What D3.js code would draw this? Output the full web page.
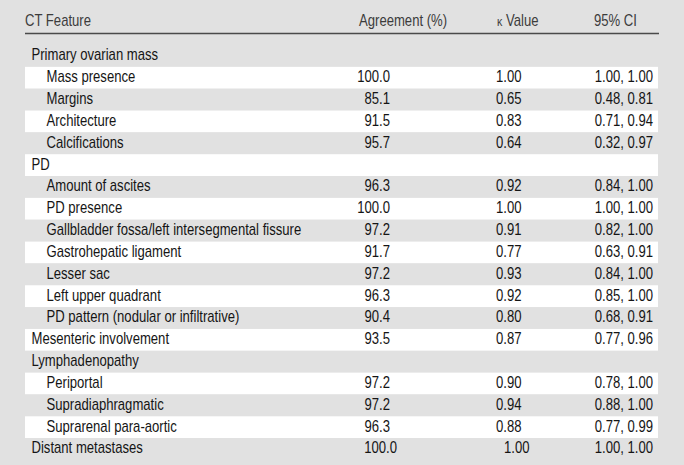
<!DOCTYPE html>
<html>
<head>
<meta charset="utf-8">
<script src="https://cdn.jsdelivr.net/npm/d3@7"></script>
<style>
  html, body { margin: 0; padding: 0; background: #e1e1e1; }
  svg { display: block; }
  text { font-family: "Liberation Sans", Arial, "Roboto", sans-serif; }
</style>
</head>
<body>
<svg id="chart" width="684" height="465"></svg>
<script>
// ---- data ----
const headers = ["CT Feature", "Agreement (%)", "\u03BA Value", "95% CI"];
const features = [
  "Primary ovarian mass", "Mass presence", "Margins", "Architecture", "Calcifications",
  "PD", "Amount of ascites", "PD presence", "Gallbladder fossa/left intersegmental fissure",
  "Gastrohepatic ligament", "Lesser sac", "Left upper quadrant", "PD pattern (nodular or infiltrative)",
  "Mesenteric involvement", "Lymphadenopathy", "Periportal", "Supradiaphragmatic",
  "Suprarenal para-aortic", "Distant metastases"
];
const levels = [0,1,1,1,1, 0,1,1,1,1,1,1,1, 0, 0,1,1,1, 0];
const agreement = [null,100.0,85.1,91.5,95.7, null,96.3,100.0,97.2,91.7,97.2,96.3,90.4, 93.5, null,97.2,97.2,96.3, 100.0];
const kappa = [null,1.00,0.65,0.83,0.64, null,0.92,1.00,0.91,0.77,0.93,0.92,0.80, 0.87, null,0.90,0.94,0.88, 1.00];
const ciLow = [null,1.00,0.48,0.71,0.32, null,0.84,1.00,0.82,0.63,0.84,0.85,0.68, 0.77, null,0.78,0.88,0.77, 1.00];
const ciHigh = [null,1.00,0.81,0.94,0.97, null,1.00,1.00,1.00,0.91,1.00,1.00,0.91, 0.96, null,1.00,1.00,0.99, 1.00];

// ---- layout ----
const svg = d3.select("#chart");
const left = 25, right = 658;
const y = d3.scaleBand().domain(d3.range(features.length)).range([45, 460]);
const f1 = d3.format(".1f"), f2 = d3.format(".2f");
const fs = 16;

// condensed horizontal scale so the longest label spans the same width as the reference
const probe = svg.append("text").style("font-size", fs + "px").text(features[8]);
const sx = 255 / probe.node().getComputedTextLength();
probe.remove();

function put(g, x, yy, txt, anchor) {
  return g.append("text")
    .attr("transform", `translate(${x},${yy}) scale(${sx},1)`)
    .attr("text-anchor", anchor || "start")
    .text(txt);
}

// header
const hdr = svg.append("g").attr("fill", "#3c3c3c").style("font-size", fs + "px");
put(hdr, 25, 26, headers[0]);
put(hdr, 359, 26, headers[1]);
const kh = hdr.append("text").attr("transform", `translate(497,26) scale(${sx},1)`);
kh.append("tspan").style("font-size", "13px").text("\u03BA");
kh.append("tspan").text(" Value");
put(hdr, 594, 26, headers[3]);
svg.append("line").attr("x1", left).attr("x2", right + 1).attr("y1", 33.5).attr("y2", 33.5)
  .attr("stroke", "#4a4a4a").attr("stroke-width", 1.3);

// rows
const last = features.length - 1;
const base = 15.3;
features.forEach((name, i) => {
  const g = svg.append("g").attr("transform", `translate(0,${y(i)})`);
  g.append("rect").attr("x", left).attr("width", right - left).attr("height", y.bandwidth())
    .attr("fill", i % 2 === 1 ? "#ffffff" : "#e1e1e1");
  const tg = g.append("g").attr("fill", "#151515").style("font-size", fs + "px");
  put(tg, levels[i] ? 46.5 : 31.5, base, name);
  if (agreement[i] != null) put(tg, i === last ? 397 : 390, base, f1(agreement[i]), "end");
  if (kappa[i] != null) put(tg, i === last ? 504 : 496, base, f2(kappa[i]));
  if (ciLow[i] != null) put(tg, 653, base, f2(ciLow[i]) + ", " + f2(ciHigh[i]), "end");
});
</script>
</body>
</html>
